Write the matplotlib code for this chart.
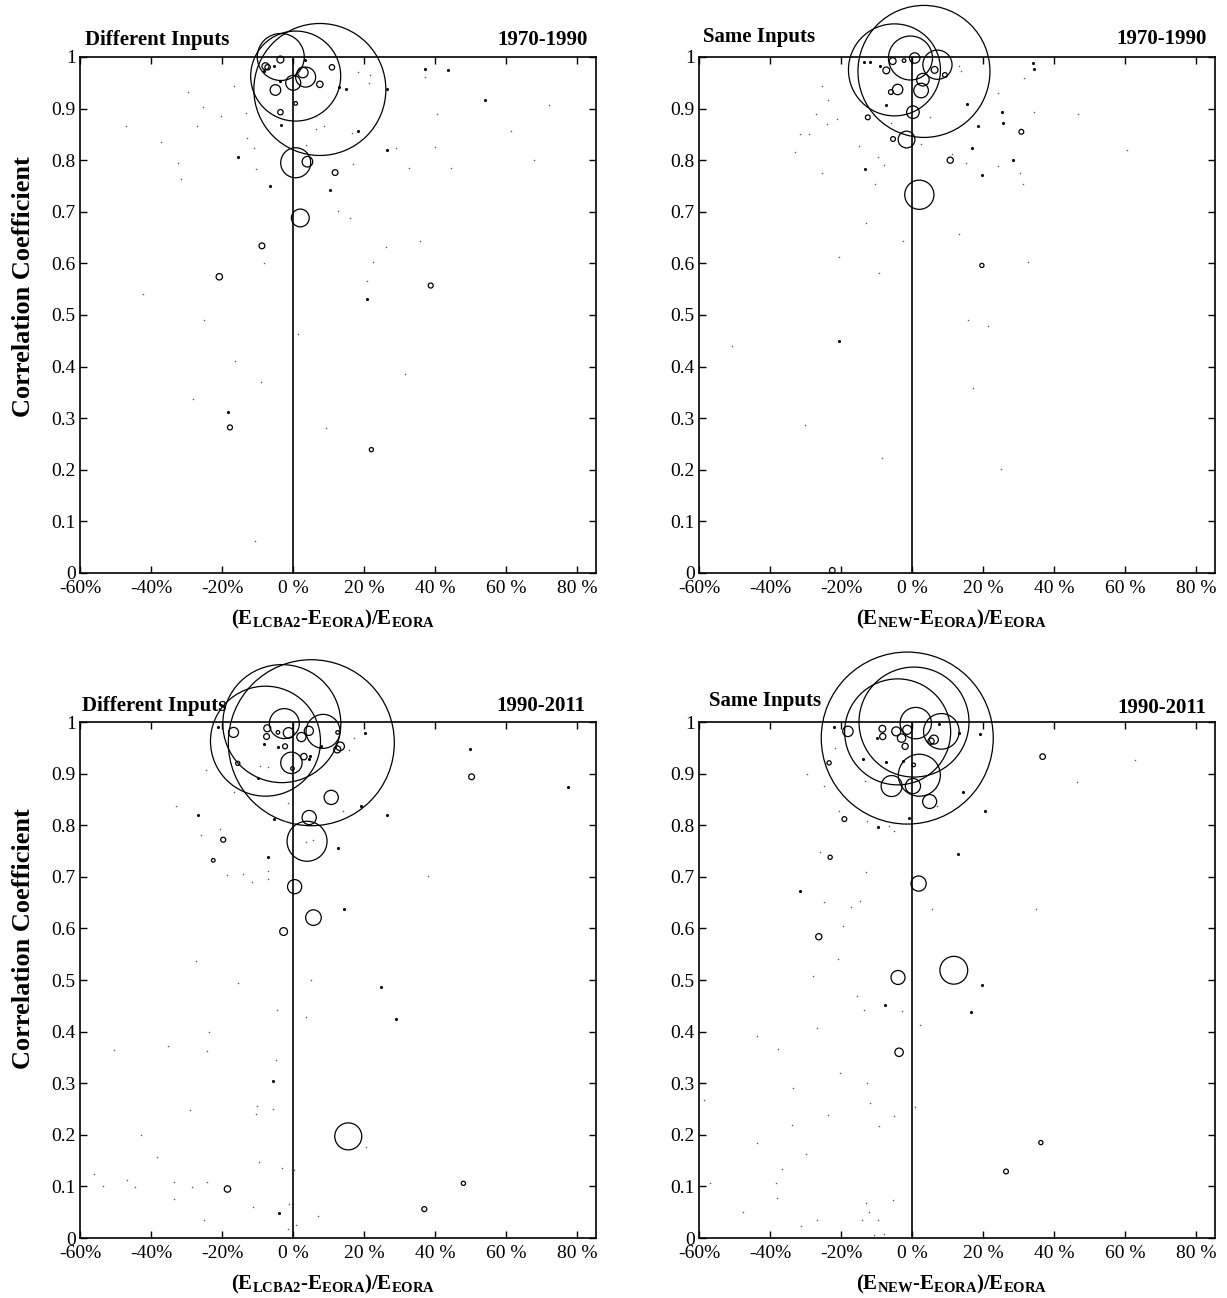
import matplotlib
matplotlib.use('Agg')
import matplotlib.pyplot as plt

plt.rcParams['font.family'] = ['Liberation Serif', 'DejaVu Serif']
plt.rcParams['mathtext.fontset'] = 'custom'
plt.rcParams['mathtext.rm'] = 'Liberation Serif'
plt.rcParams['mathtext.bf'] = 'Liberation Serif:bold'
plt.rcParams['mathtext.it'] = 'Liberation Serif:italic'

x_ticks = [-60, -40, -20, 0, 20, 40, 60, 80]
x_tick_labels = ['-60%', '-40%', '-20%', '0 %', '20 %', '40 %', '60 %', '80 %']
y_ticks = [0, 0.1, 0.2, 0.3, 0.4, 0.5, 0.6, 0.7, 0.8, 0.9, 1.0]
y_tick_labels = ['0', '0.1', '0.2', '0.3', '0.4', '0.5', '0.6', '0.7', '0.8', '0.9', '1']

# (relative difference in %, correlation coefficient, bubble radius)
tl_bubbles = [(7.5, .937, 66), (0.7, .963, 45), (-3.5, 1.0, 23.5), (3.5, .961, 10), (0, .95, 7.5),
              (-5, .936, 5.3), (2.7, .97, 5.3), (7.5, .947, 3.2), (-3.6, .995, 3.5), (-7.8, .982, 3.5),
              (10.9, .98, 2.7), (-3.6, .893, 2.7), (0.7, .795, 15), (4, .797, 5.3), (11.8, .776, 2.9),
              (2, .688, 8.9), (-8.8, .634, 2.9), (-20.8, .574, 3.2), (38.7, .557, 2.5), (-17.8, .282, 2.5),
              (22, .239, 2.1), (0.7, .91, 1.8), (-7.2, .98, 2.7)]
tl_dots = [(-18.3, .312), (20.9, .53), (37.1, .977), (43.7, .975), (53.9, .917), (26.5, .937),
           (26.3, .819), (18.2, .857), (-15.5, .806), (10.4, .742), (12.9, .942), (-6.5, .749),
           (14.9, .937), (-5.3, .982), (-3.8, .954), (-8.3, .972), (-3.3, .869), (3.4, .995)]
tl_specks = [(37.1, .961), (-29.5, .932), (-47.1, .866), (-37.3, .835), (-32.3, .794), (-31.5, .764),
             (-27, .867), (-25.5, .903), (-20.3, .886), (-13.3, .892), (-13.1, .843), (-11, .823),
             (-10.5, .783), (-16.8, .944), (61.2, .856), (71.9, .906), (67.7, .8), (44.5, .785),
             (32.7, .785), (40.5, .89), (40, .826), (35.7, .644), (26.2, .632), (22.5, .603),
             (20.9, .566), (29, .823), (12.7, .701), (15.9, .688), (-8.3, .601), (-42.3, .541),
             (18.2, .97), (21.7, .966), (21.2, .95), (16.5, .853), (16.9, .793), (6.5, .861),
             (8.7, .867), (3.5, .83), (-25, .49), (-16.5, .411), (-9, .37), (-28.1, .337),
             (-10.8, .061), (1.4, .463), (31.5, .385), (9.1, .281)]

tr_bubbles = [(3.3, .972, 66), (-5, .975, 46), (-0.5, .998, 22), (7.1, .985, 14.6), (0.7, .998, 5.2),
              (-5.5, .992, 3.4), (-7.3, .974, 3.4), (3, .956, 6.3), (2.5, .935, 7.3), (-4.1, .937, 5.2),
              (-6, .932, 2.4), (6.3, .975, 3.4), (9.2, .965, 2.4), (0.2, .893, 6.3), (-1.6, .84, 8.4),
              (-5.4, .841, 2.4), (-12.5, .883, 2.4), (30.7, .855, 2.4), (10.7, .8, 3.1), (2, .733, 14.6),
              (19.6, .596, 2.1), (-2.3, .993, 1.8), (-22.5, .005, 2.8)]
tr_dots = [(-20.7, .45), (33.9, .988), (34.4, .977), (25.4, .894), (25.6, .872), (15.3, .908),
           (18.5, .866), (16.7, .823), (19.5, .772), (28.4, .801), (-13.3, .783), (-7.5, .906),
           (-9.2, .982), (-13.5, .99), (-11.8, .99)]
tr_specks = [(-50.8, .44), (-30.2, .286), (-8.6, .223), (15.7, .49), (21.3, .479), (17.2, .358),
             (24.9, .201), (-25.4, .943), (-23.6, .916), (-27, .89), (-24.1, .871), (-21.2, .88),
             (-31.7, .851), (-29, .851), (-32.9, .815), (-25.5, .775), (-10.6, .753), (-13, .679),
             (-2.5, .643), (-20.6, .612), (-9.4, .582), (46.7, .89), (60.4, .819), (31.5, .959),
             (24, .93), (34.2, .893), (30.3, .775), (31.3, .753), (32.7, .603), (13.1, .656),
             (24.2, .788), (11.2, .811), (15.1, .795), (-15, .827), (-9.7, .806), (-7.9, .79),
             (5.1, .884), (13.1, .982), (13.6, .972), (-5.9, .872), (2.6, .832)]

bl_bubbles = [(5.1, .96, 83), (-3.2, .997, 59), (-7.8, .963, 55), (-2.5, .997, 15), (8.4, .982, 17),
              (-0.5, .921, 10.7), (-1.3, .979, 5.3), (2.3, .971, 4.6), (4.4, .983, 4.6), (-16.8, .98, 5),
              (-7.3, .988, 3.5), (-2.3, .953, 2.5), (3, .933, 3.2), (13.2, .953, 4.3), (12.4, .947, 3.5),
              (-15.6, .92, 2.1), (10.7, .854, 7.1), (4.5, .815, 7.1), (3.9, .769, 20), (0.4, .681, 7.1),
              (5.7, .621, 7.8), (50.2, .894, 2.9), (-19.7, .772, 2.5), (-22.5, .732, 1.8),
              (-2.7, .594, 3.9), (15.5, .197, 13.5), (-18.5, .095, 3.2), (47.9, .106, 2.1),
              (36.9, .056, 2.5), (-7.5, .972, 2.9), (-4.3, .98, 1.8), (12.5, .98, 1.8), (-0.2, .91, 1.8)]
bl_dots = [(24.7, .487), (28.9, .424), (-5.8, .305), (-3.9, .048), (-26.9, .82), (-5.3, .812),
           (26.5, .82), (19.2, .837), (12.7, .756), (-7.1, .738), (49.7, .947), (-21.3, .99),
           (-9.8, .892), (20.2, .979), (-4.3, .952), (-8.3, .958), (4.7, .934), (4.4, .928),
           (7.7, .953), (77.2, .875), (14.2, .638)]
bl_specks = [(-33, .838), (-24.5, .908), (-16.7, .865), (-26, .781), (-20.6, .792), (-18.6, .703),
             (-14, .705), (-11.5, .69), (-7, .712), (-7, .696), (-1.5, .844), (5.7, .772), (3.7, .768),
             (17.2, .97), (15.7, .946), (38, .701), (14, .827), (1.5, .888), (-2.3, .809), (-9.3, .915),
             (-7, .913), (-27.3, .536), (-15.5, .494), (-4.7, .442), (3.7, .428), (4.9, .5),
             (-23.6, .399), (-50.3, .365), (-35.3, .372), (-24.2, .363), (-4.8, .346), (-29.1, .248),
             (-10.1, .255), (-10.6, .24), (-5.8, .25), (-42.7, .2), (-38.3, .157), (-9.7, .148),
             (-3.1, .135), (0.3, .131), (20.4, .177), (-56.1, .124), (-53.5, .1), (-46.8, .113),
             (-44.6, .099), (-33.5, .108), (-28.5, .098), (-24.3, .108), (-33.5, .075), (-11.3, .061),
             (-25, .035), (-1.2, .066), (7.1, .043), (-1.5, .018), (0.7, .026)]

br_bubbles = [(-1.4, .969, 86), (-4.1, .981, 53), (0.5, 1.0, 55), (1, .998, 15.7), (8.2, .982, 17.8),
              (2, .897, 21), (-5.8, .876, 10.5), (0.2, .876, 7.6), (4.9, .846, 7), (-18.1, .982, 5.2),
              (-1.4, .985, 4.5), (-4.5, .982, 4.5), (-3, .969, 4.2), (-8.4, .987, 3.4), (-8.3, .972, 3.1),
              (6.1, .966, 4.5), (5.3, .963, 3.1), (-2, .953, 3.1), (-23.4, .921, 2.1), (-19.1, .812, 2.4),
              (-23.1, .738, 2.1), (1.8, .687, 7.6), (36.7, .933, 2.8), (0.4, .917, 1.8), (-26.3, .584, 3.1),
              (-4, .505, 7), (-3.7, .36, 4.2), (11.7, .519, 13.9), (36.2, .185, 2.1), (26.4, .129, 2.4)]
br_dots = [(19.5, .491), (16.4, .439), (-7.7, .451), (-22, .99), (-13.8, .928), (-7.3, .922),
           (-2.5, .924), (14.4, .865), (20.6, .827), (12.9, .744), (-31.7, .672), (-9.7, .796),
           (-0.9, .815), (13.1, .978), (19, .977), (7.6, .996), (-9.9, .969)]
br_specks = [(-29.7, .9), (-24.8, .876), (-20.5, .827), (-12.6, .809), (-6.5, .799), (-5.2, .788),
             (-26, .748), (-13, .71), (-24.8, .652), (-17.3, .642), (-14.7, .654), (-19.6, .604),
             (5.5, .637), (34.9, .638), (62.6, .926), (46.5, .884), (-0.8, .803), (-21.7, .949),
             (-13.3, .886), (7.1, .838), (8.5, .948), (-20.9, .54), (-27.9, .508), (-15.5, .47),
             (-13.5, .442), (-2.9, .44), (-26.7, .408), (2.2, .413), (-43.7, .392), (-37.7, .366),
             (-20.2, .319), (-12.6, .301), (-33.6, .29), (-11.9, .261), (0.7, .254), (-23.7, .238),
             (-5.1, .236), (-33.7, .219), (-9.4, .218), (-43.7, .185), (-30, .162), (-36.6, .134),
             (-58.6, .268), (-56.8, .106), (-38.4, .106), (-38, .077), (-5.5, .074), (-47.5, .05),
             (-12.9, .068), (-12.3, .051), (-31.3, .024), (-26.9, .034), (-14.1, .034), (-9.7, .034),
             (-10.7, .006), (-7.9, .008)]

panels = [
    # data, left title, period, numerator subscript, axes rect, title placement
    (tl_bubbles, tl_dots, tl_specks, 'Different Inputs', '1970-1990', 'LCBA2',
     [0.0652, 0.5586, 0.4205, 0.3975], (0.01, 1.023), (0.985, 1.023), 0.555),
    (tr_bubbles, tr_dots, tr_specks, 'Same Inputs', '1970-1990', 'NEW',
     [0.5697, 0.5586, 0.4205, 0.3975], (0.008, 1.029), (0.984, 1.025), None),
    (bl_bubbles, bl_dots, bl_specks, 'Different Inputs', '1990-2011', 'LCBA2',
     [0.0652, 0.0462, 0.4205, 0.3975], (0.004, 1.021), (0.979, 1.021), 0.58),
    (br_bubbles, br_dots, br_specks, 'Same Inputs', '1990-2011', 'NEW',
     [0.5697, 0.0462, 0.4205, 0.3975], (0.02, 1.031), (0.984, 1.017), None),
]

fig = plt.figure(figsize=(12.27, 12.98), dpi=100)

for bubbles, dots, specks, label, period, sub, rect, lpos, rpos, ylab_y in panels:
    ax = fig.add_axes(rect)

    bx, by, br = zip(*bubbles)
    sizes = [(2 * r * 72 / fig.dpi) ** 2 for r in br]
    ax.scatter(bx, by, s=sizes, facecolors='none', edgecolors='black',
               linewidths=0.9, clip_on=False, zorder=3)
    dx, dy = zip(*dots)
    ax.scatter(dx, dy, s=5, color='black', linewidths=0, zorder=3)
    sx, sy = zip(*specks)
    ax.scatter(sx, sy, s=1.2, color='0.35', linewidths=0, zorder=3)

    ax.axvline(0, color='black', lw=1.2, zorder=2)

    ax.set_xlim(-60, 85.2)
    ax.set_ylim(0, 1)
    ax.set_xticks(x_ticks)
    ax.set_xticklabels(x_tick_labels, fontsize=14)
    ax.set_yticks(y_ticks)
    ax.set_yticklabels(y_tick_labels, fontsize=14, va='center_baseline')
    ax.tick_params(direction='in', top=True, right=True, length=5, width=1)
    ax.tick_params(axis='x', pad=5)
    ax.tick_params(axis='y', pad=3)
    for sp in ax.spines.values():
        sp.set_linewidth(1.2)

    ax.text(lpos[0], lpos[1], label, transform=ax.transAxes, fontsize=15,
            fontweight='bold', ha='left', va='baseline')
    ax.text(rpos[0], rpos[1], period, transform=ax.transAxes, fontsize=15,
            fontweight='bold', ha='right', va='baseline')

    xlab = r'$\mathbf{(E_{%s}}$-$\mathbf{E_{EORA})/E_{EORA}}$' % sub
    ax.text(0.49, -0.09, xlab, transform=ax.transAxes, fontsize=15,
            fontweight='bold', ha='center', va='center')
    if ylab_y is not None:
        ax.text(-0.11, ylab_y, 'Correlation Coefficient', transform=ax.transAxes,
                fontsize=19, fontweight='bold', rotation=90, ha='center', va='center')

fig.savefig('out.png', dpi=100)
